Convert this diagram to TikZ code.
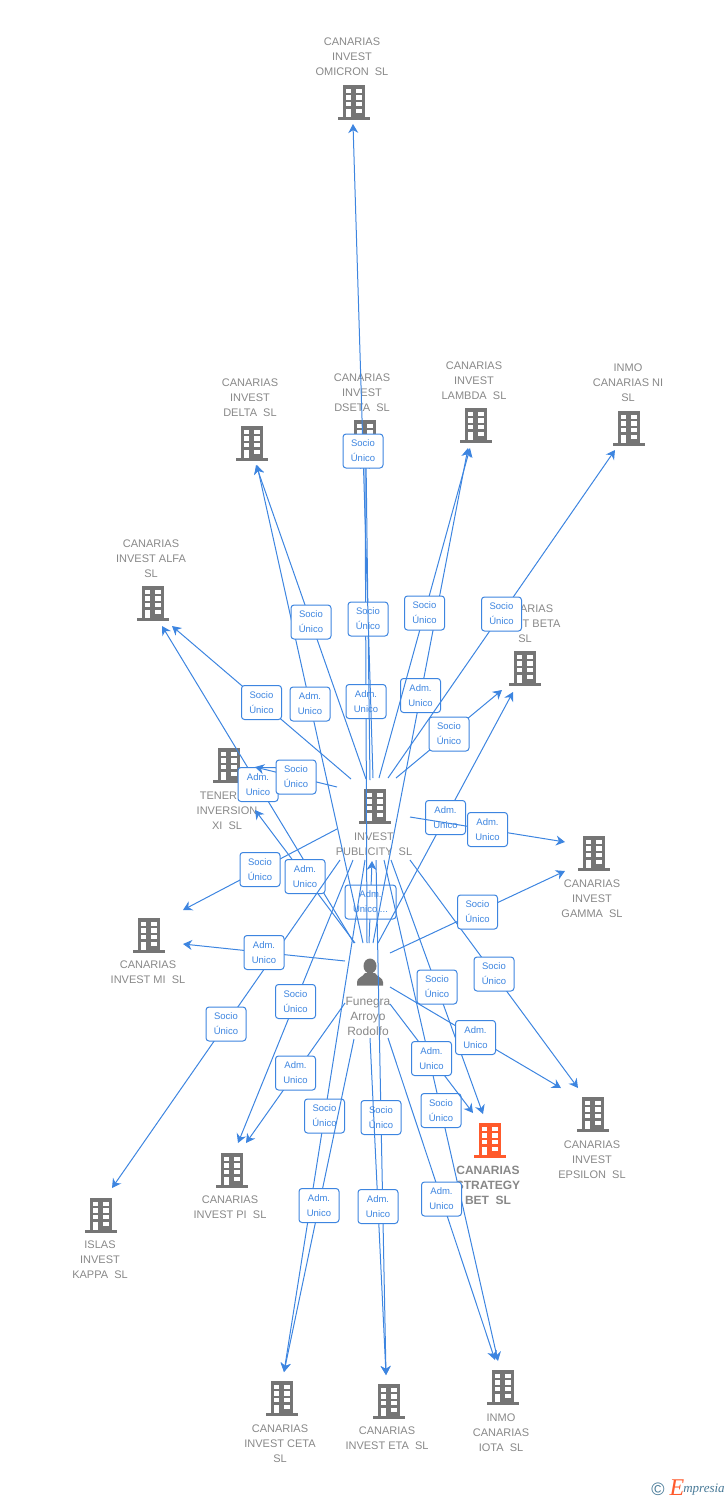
\documentclass[tikz,border=0pt]{standalone}
\usepackage{fontspec}
\setmainfont{Liberation Sans}
\newfontfamily\logofont{Liberation Serif}
\usetikzlibrary{calc,arrows.meta}
\definecolor{LinkBlue}{RGB}{61,133,224}
\definecolor{IconGray}{RGB}{117,117,117}
\definecolor{NameGray}{RGB}{136,136,136}
\definecolor{MainOrange}{RGB}{255,90,44}
\definecolor{LogoTeal}{RGB}{70,120,150}
\newcommand{\socio}{Socio\\Único}
\newcommand{\adm}{Adm.\\Unico}
% from node + offset, to node + offset, text of the box
\newcommand{\linkto}[5]{\draw[linkline] ($(#1)+(#2)$) -- node[linkbox]{#5} ($(#3)+(#4)$);}
\tikzset{
    bldg/.style={
        minimum width=33, minimum height=36, inner sep=0pt,
        path picture={
            \begin{scope}[shift={(path picture bounding box.center)}]
                \fill[#1] (-11,-17.5) rectangle (11,15);
                \fill[#1] (-16,14.8) rectangle (16,17.5);
                \foreach \y in {-13.5,-7,-0.5} {
                    \fill[white] (-8.5,\y) rectangle (-3,\y+4.8);
                    \fill[white] (2,\y) rectangle (7.5,\y+4.8);
                }
                \fill[white] (-8.5,6.5) rectangle (-3,14.8);
                \fill[white] (2,6.5) rectangle (7.5,11.2);
            \end{scope}
        }
    },
    personicon/.style={
        minimum width=28, minimum height=29, inner sep=0pt,
        path picture={
            \begin{scope}[shift={(path picture bounding box.center)}]
                \fill[IconGray] (0,-6) ellipse (6.5 and 7.5);
                \fill[IconGray] (-13,13.5) -- (-13,10) .. controls (-13,5.5) and (-7,5) .. (-5,1) -- (5,1) .. controls (7,5) and (13,5.5) .. (13,10) -- (13,13.5) -- cycle;
            \end{scope}
        }
    },
    orgname/.style={align=center, text=NameGray, inner sep=0pt, yshift=-1pt, font=\fontsize{11}{15}\selectfont},
    mainname/.style={align=center, text=NameGray, inner sep=0pt, font=\fontsize{12}{15}\selectfont\bfseries},
    linkline/.style={draw=LinkBlue, line width=1pt, -{Stealth[length=9pt,width=10pt]}},
    linkbox/.style={
        draw=LinkBlue, fill=white, line width=1pt, rounded corners=3pt,
        text=LinkBlue, align=center, inner sep=0pt, minimum width=40, minimum height=34,
        font=\fontsize{9.5}{15}\selectfont
    }
}
\begin{document}
\begin{tikzpicture}[x=1pt,y=-1pt]
    \useasboundingbox (0,0) rectangle (728,1500);
    % companies
    \node[bldg=IconGray] (omicron) at (354,102) {};
    \node[orgname] (omicronname) at (352,56) {CANARIAS\\INVEST\\OMICRON\ \ SL};
    \node[bldg=IconGray] (dseta) at (365,437) {};
    \node[orgname] (dsetaname) at (362,392) {CANARIAS\\INVEST\\DSETA\ \ SL};
    \node[bldg=IconGray] (delta) at (252,443) {};
    \node[orgname] (deltaname) at (250,397) {CANARIAS\\INVEST\\DELTA\ \ SL};
    \node[bldg=IconGray] (lambda) at (476,425) {};
    \node[orgname] (lambdaname) at (474,380) {CANARIAS\\INVEST\\LAMBDA\ \ SL};
    \node[bldg=IconGray] (ni) at (629,428) {};
    \node[orgname] (niname) at (628,382) {INMO\\CANARIAS NI\\SL};
    \node[bldg=IconGray] (alfa) at (153,603) {};
    \node[orgname] (alfaname) at (151,558) {CANARIAS\\INVEST ALFA\\SL};
    \node[bldg=IconGray] (beta) at (525,668) {};
    \node[orgname] (betaname) at (525,623) {CANARIAS\\INVEST BETA\\SL};
    \node[bldg=IconGray] (tenerife) at (229,765) {};
    \node[orgname] (tenerifename) at (227,810) {TENERIFE\\INVERSION\\XI\ \ SL};
    \node[bldg=IconGray] (pub) at (375,806) {};
    \node[orgname] (pubname) at (374,843.5) {INVEST\\PUBLICITY\ \ SL};
    \node[bldg=IconGray] (gamma) at (594,853) {};
    \node[orgname] (gammaname) at (592,898) {CANARIAS\\INVEST\\GAMMA\ \ SL};
    \node[bldg=IconGray] (mi) at (149,935) {};
    \node[orgname] (miname) at (148,971.5) {CANARIAS\\INVEST MI\ \ SL};
    \node[personicon] (fun) at (370,972) {};
    \node[orgname, font=\fontsize{12}{15}\selectfont] (funname) at (368,1015) {Funegra\\Arroyo\\Rodolfo};
    \node[bldg=IconGray] (epsilon) at (593,1114) {};
    \node[orgname] (epsilonname) at (592,1159) {CANARIAS\\INVEST\\EPSILON\ \ SL};
    \node[bldg=MainOrange] (strategy) at (490,1140) {};
    \node[mainname] (strategyname) at (488,1185) {CANARIAS\\STRATEGY\\BET\ \ SL};
    \node[bldg=IconGray] (pi) at (232,1170) {};
    \node[orgname] (piname) at (230,1206.5) {CANARIAS\\INVEST PI\ \ SL};
    \node[bldg=IconGray] (kappa) at (101,1215) {};
    \node[orgname] (kappaname) at (100,1259) {ISLAS\\INVEST\\KAPPA\ \ SL};
    \node[bldg=IconGray] (ceta) at (282,1398) {};
    \node[orgname] (cetaname) at (280,1443) {CANARIAS\\INVEST CETA\\SL};
    \node[bldg=IconGray] (eta) at (389,1401) {};
    \node[orgname] (etaname) at (387,1437.5) {CANARIAS\\INVEST ETA\ \ SL};
    \node[bldg=IconGray] (iota) at (503,1387) {};
    \node[orgname] (iotaname) at (501,1432) {INMO\\CANARIAS\\IOTA\ \ SL};
    % links, later ones lie over the boxes of earlier ones
    \linkto{fun}{-1,-29}{pub}{-3,55}{\makebox[51pt]{Adm.}\\Unico ...}
    \linkto{fun}{-3,-29}{dseta}{0,23}{\adm}
    \linkto{pub}{-5,-26}{dseta}{1,21}{\socio}
    \linkto{pub}{-2,-28}{omicron}{-1,22}{\socio}
    \linkto{fun}{-7,-29}{delta}{5,22}{\adm}
    \linkto{pub}{-9,-27}{delta}{4,22}{\socio}
    \linkto{pub}{-24,-27}{alfa}{19,23}{\socio}
    \linkto{fun}{-16,-29}{alfa}{9,23}{\adm}
    \linkto{fun}{-15,-29}{tenerife}{26,45}{\adm}
    \linkto{pub}{-38,-19}{tenerife}{26,2}{\socio}
    \linkto{pub}{-35,54}{kappa}{11,-27}{\socio}
    \linkto{pub}{-38,23}{mi}{34,-25}{\socio}
    \linkto{fun}{-25,-11}{mi}{34,9}{\adm}
    \linkto{pub}{-22,54}{pi}{6,-27}{\socio}
    \linkto{fun}{-25,31}{pi}{14,-27}{\adm}
    \linkto{pub}{-10,54}{ceta}{2,-26}{\socio}
    \linkto{fun}{-16,67}{ceta}{2,-26}{\adm}
    \linkto{pub}{1,54}{eta}{-3,-26}{\socio}
    \linkto{fun}{0,66}{eta}{-3,-26}{\adm}
    \linkto{pub}{9,54}{iota}{-5,-26}{\socio}
    \linkto{fun}{18,66}{iota}{-8,-27}{\adm}
    \linkto{pub}{16,54}{strategy}{-7,-26}{\socio}
    \linkto{fun}{20,32}{strategy}{-17,-27}{\adm}
    \linkto{pub}{35,54}{epsilon}{-15,-26}{\socio}
    \linkto{fun}{20,15}{epsilon}{-32,-26}{\adm}
    \linkto{fun}{3,-29}{lambda}{-8,23}{\adm}
    \linkto{pub}{4,-28}{lambda}{-6,23}{\socio}
    \linkto{pub}{13,-28}{ni}{-14,22}{\socio}
    \linkto{fun}{8,-29}{beta}{-12,24}{\adm}
    \linkto{pub}{21,-28}{beta}{-23,22}{\socio}
    \linkto{fun}{20,-19}{gamma}{-29,18}{\socio}
    \linkto{pub}{35,11}{gamma}{-29,-11}{\adm}
    % logo
    \node[text=LogoTeal, inner sep=0pt, font=\fontsize{18}{18}\selectfont] (logomark) at (658,1489) {©};
    \node[text=MainOrange, inner sep=0pt, font=\logofont\itshape\fontsize{24}{24}\selectfont] (logoe) at (677,1488) {E};
    \node[text=LogoTeal, inner sep=0pt, font=\logofont\itshape\fontsize{13}{15}\selectfont] (logotext) at (704,1490) {mpresia};
\end{tikzpicture}
\end{document}
